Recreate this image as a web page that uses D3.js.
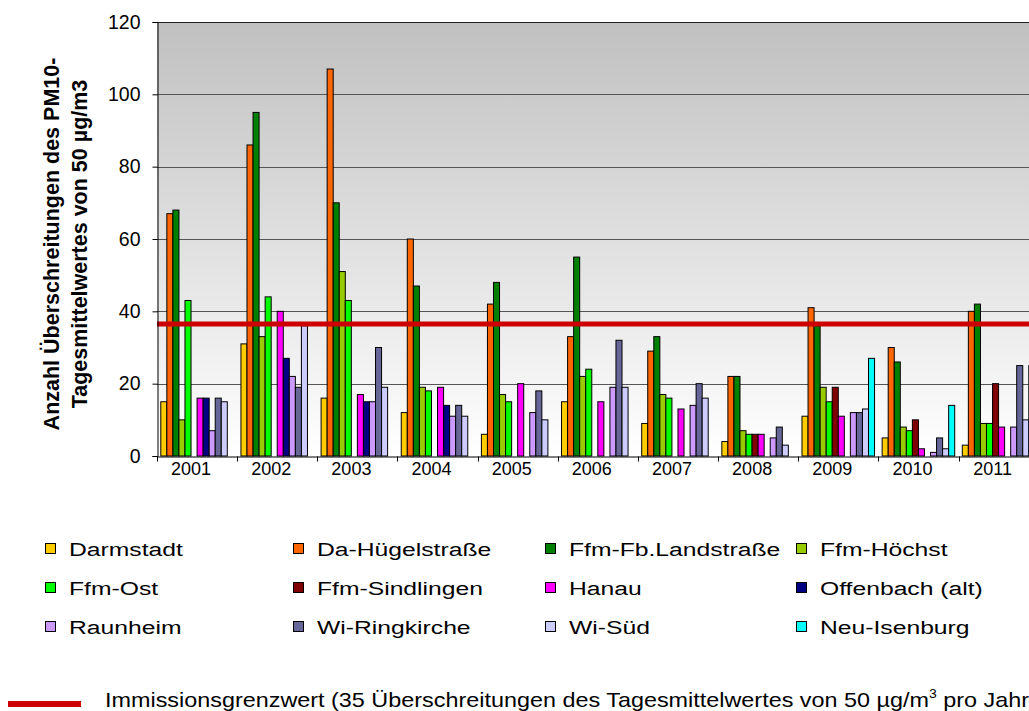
<!DOCTYPE html>
<html lang="de">
<head>
<meta charset="utf-8">
<title>PM10 Überschreitungen</title>
<script src="https://d3js.org/d3.v7.min.js"></script>
<style>
  body { margin: 0; background: #fff; }
  svg { display: block; font-family: Arial, "Liberation Sans", sans-serif; }
</style>
</head>
<body>
<div id="chart"></div>
<script>
// years on the x axis
var years = ['2001','2002','2003','2004','2005','2006','2007','2008','2009','2010','2011'];

// stations (series) and their colours
var stations = ['Darmstadt','Da-Hügelstraße','Ffm-Fb.Landstraße','Ffm-Höchst','Ffm-Ost','Ffm-Sindlingen',
                'Hanau','Offenbach (alt)','Raunheim','Wi-Ringkirche','Wi-Süd','Neu-Isenburg'];
var colors = ['#FFCC00','#FF6600','#008000','#99CC00','#00FF00','#800000',
              '#FF00FF','#000080','#CC99FF','#666699','#CCCCFF','#00FFFF'];

// number of days above 50 µg/m3, per station, 2001..2011 (null = no data)
var darmstadt    = [15, 31, 16, 12,  6, 15,  9,  4, 11,  5,  3];
var daHuegel     = [67, 86, 107, 60, 42, 33, 29, 22, 41, 30, 40];
var ffmFb        = [68, 95, 70, 47, 48, 55, 33, 22, 36, 26, 42];
var ffmHoechst   = [10, 33, 51, 19, 17, 22, 17,  7, 19,  8,  9];
var ffmOst       = [43, 44, 43, 18, 15, 24, 16,  6, 15,  7,  9];
var ffmSindl     = [null, null, null, null, null, null, null, 6, 19, 10, 20];
var hanau        = [16, 40, 17, 19, 20, 15, 13,  6, 11,  2,  8];
var offenbach    = [16, 27, 15, 14, null, null, null, null, null, null, null];
var raunheim     = [ 7, 22, 15, 11, 12, 19, 14,  5, 12,  1,  8];
var wiRing       = [16, 19, 30, 14, 18, 32, 20,  8, 12,  5, 25];
var wiSued       = [15, 36, 19, 11, 10, 19, 16,  3, 13,  2, 10];
var neuIsenburg  = [null, null, null, null, null, null, null, null, 27, 14, 25];

var series = [darmstadt, daHuegel, ffmFb, ffmHoechst, ffmOst, ffmSindl,
              hanau, offenbach, raunheim, wiRing, wiSued, neuIsenburg];

var yTicks = [0, 20, 40, 60, 80, 100, 120];
var limitLine = 36.5;   // where the red line is drawn in the picture
var limitText = 'Immissionsgrenzwert (35 Überschreitungen des Tagesmittelwertes von 50 µg/m';

var width = 1029, height = 711;
var plotLeft = 157, plotTop = 22, plotBottom = 456;
var band = 80.15;
var plotRight = plotLeft + band * years.length;

var svg = d3.select('#chart').append('svg')
    .attr('width', width)
    .attr('height', height);

var defs = svg.append('defs');
var grad = defs.append('linearGradient')
    .attr('id', 'bg')
    .attr('x1', 0).attr('y1', 0).attr('x2', 0).attr('y2', 1);
grad.append('stop').attr('offset', '0%').attr('stop-color', '#c0c0c0');
grad.append('stop').attr('offset', '100%').attr('stop-color', '#ffffff');

var x0 = d3.scaleBand()
    .domain(years)
    .range([plotLeft, plotRight]);
var x1 = d3.scaleBand()
    .domain(d3.range(stations.length))
    .range([3.8, band - 3.8]);
var y = d3.scaleLinear()
    .domain([0, 120])
    .range([plotBottom, plotTop]);

// plot background
svg.append('rect')
    .attr('x', plotLeft)
    .attr('y', plotTop)
    .attr('width', plotRight - plotLeft)
    .attr('height', plotBottom - plotTop)
    .attr('fill', 'url(#bg)');

// grid lines
svg.append('g')
  .selectAll('line')
  .data(yTicks.slice(1))
  .enter().append('line')
    .attr('x1', plotLeft)
    .attr('x2', plotRight)
    .attr('y1', function(d) { return Math.round(y(d)) + 0.5; })
    .attr('y2', function(d) { return Math.round(y(d)) + 0.5; })
    .attr('stroke', function(d) { return d == 120 ? '#222' : '#555'; })
    .attr('stroke-width', 1);

// bars
var groups = svg.append('g')
  .selectAll('g')
  .data(years)
  .enter().append('g')
    .attr('transform', function(d) { return 'translate(' + x0(d) + ',0)'; });

groups.selectAll('rect')
  .data(function(d, i) {
    return series.map(function(s, k) { return { k: k, v: s[i] }; })
                 .filter(function(e) { return e.v != null; });
  })
  .enter().append('rect')
    .attr('x', function(d) { return x1(d.k); })
    .attr('y', function(d) { return y(d.v); })
    .attr('width', x1.bandwidth())
    .attr('height', function(d) { return y(0) - y(d.v); })
    .attr('fill', function(d) { return colors[d.k]; })
    .attr('stroke', '#000')
    .attr('stroke-width', 1);

// red limit line
svg.append('line')
    .attr('x1', plotLeft)
    .attr('x2', plotRight)
    .attr('y1', y(limitLine))
    .attr('y2', y(limitLine))
    .attr('stroke', '#CC0000')
    .attr('stroke-width', 5);

// axes
var yAxis = d3.axisLeft(y)
    .tickValues(yTicks)
    .tickSize(5)
    .tickPadding(12);
var gy = svg.append('g')
    .attr('transform', 'translate(' + (plotLeft + 0.5) + ',0)')
    .call(yAxis);
gy.select('.domain').attr('stroke', '#000');
gy.selectAll('.tick text').attr('font-size', 19.5).attr('fill', '#000')
    .attr('font-family', 'Arial, "Liberation Sans", sans-serif');

var xAxis = d3.axisBottom(x0)
    .tickSize(0)
    .tickPadding(6);
var gx = svg.append('g')
    .attr('transform', 'translate(0,' + (plotBottom + 0.5) + ')')
    .call(xAxis);
gx.select('.domain').attr('stroke', '#000');
gx.selectAll('.tick text').attr('font-size', 18).attr('fill', '#000')
    .attr('dx', -6)
    .attr('font-family', 'Arial, "Liberation Sans", sans-serif');
// tick marks between categories
gx.selectAll('.sep')
  .data(years)
  .enter().append('line')
    .attr('class', 'sep')
    .attr('x1', function(d) { return Math.round(x0(d)) + 0.5; })
    .attr('x2', function(d) { return Math.round(x0(d)) + 0.5; })
    .attr('y1', 0)
    .attr('y2', 5)
    .attr('stroke', '#000');

// y axis title
var title = svg.append('text')
    .attr('transform', 'translate(66,244) rotate(-90)')
    .attr('text-anchor', 'middle')
    .attr('font-weight', 'bold')
    .attr('font-size', 21.5);
title.append('tspan').attr('x', 0).attr('y', -7).text('Anzahl Überschreitungen des PM10-');
title.append('tspan').attr('x', 0).attr('y', 21).text('Tagesmittelwertes von 50 µg/m3');

// legend
var colX = [45, 293, 545, 796];
var rowY = [549, 588, 627];
var legend = svg.append('g')
  .selectAll('g')
  .data(stations)
  .enter().append('g')
    .attr('transform', function(d, i) {
      return 'translate(' + colX[i % 4] + ',' + rowY[Math.floor(i / 4)] + ')';
    });
legend.append('rect')
    .attr('x', 0.5).attr('y', -5.5)
    .attr('width', 10).attr('height', 10)
    .attr('fill', function(d, i) { return colors[i]; })
    .attr('stroke', '#000');
legend.append('text')
    .attr('transform', 'translate(24,7) scale(1.3,1)')
    .attr('font-size', 19)
    .text(function(d) { return d; });

// limit line caption
svg.append('line')
    .attr('x1', 8).attr('x2', 81)
    .attr('y1', 704).attr('y2', 704)
    .attr('stroke', '#CC0000')
    .attr('stroke-width', 6);
var cap = svg.append('text')
    .attr('transform', 'translate(105,707) scale(1.17,1)')
    .attr('font-size', 20);
cap.append('tspan').text(limitText);
cap.append('tspan').attr('font-size', 12).attr('dy', -9).text('3');
cap.append('tspan').attr('dy', 9).text(' pro Jahr)');
</script>
</body>
</html>
